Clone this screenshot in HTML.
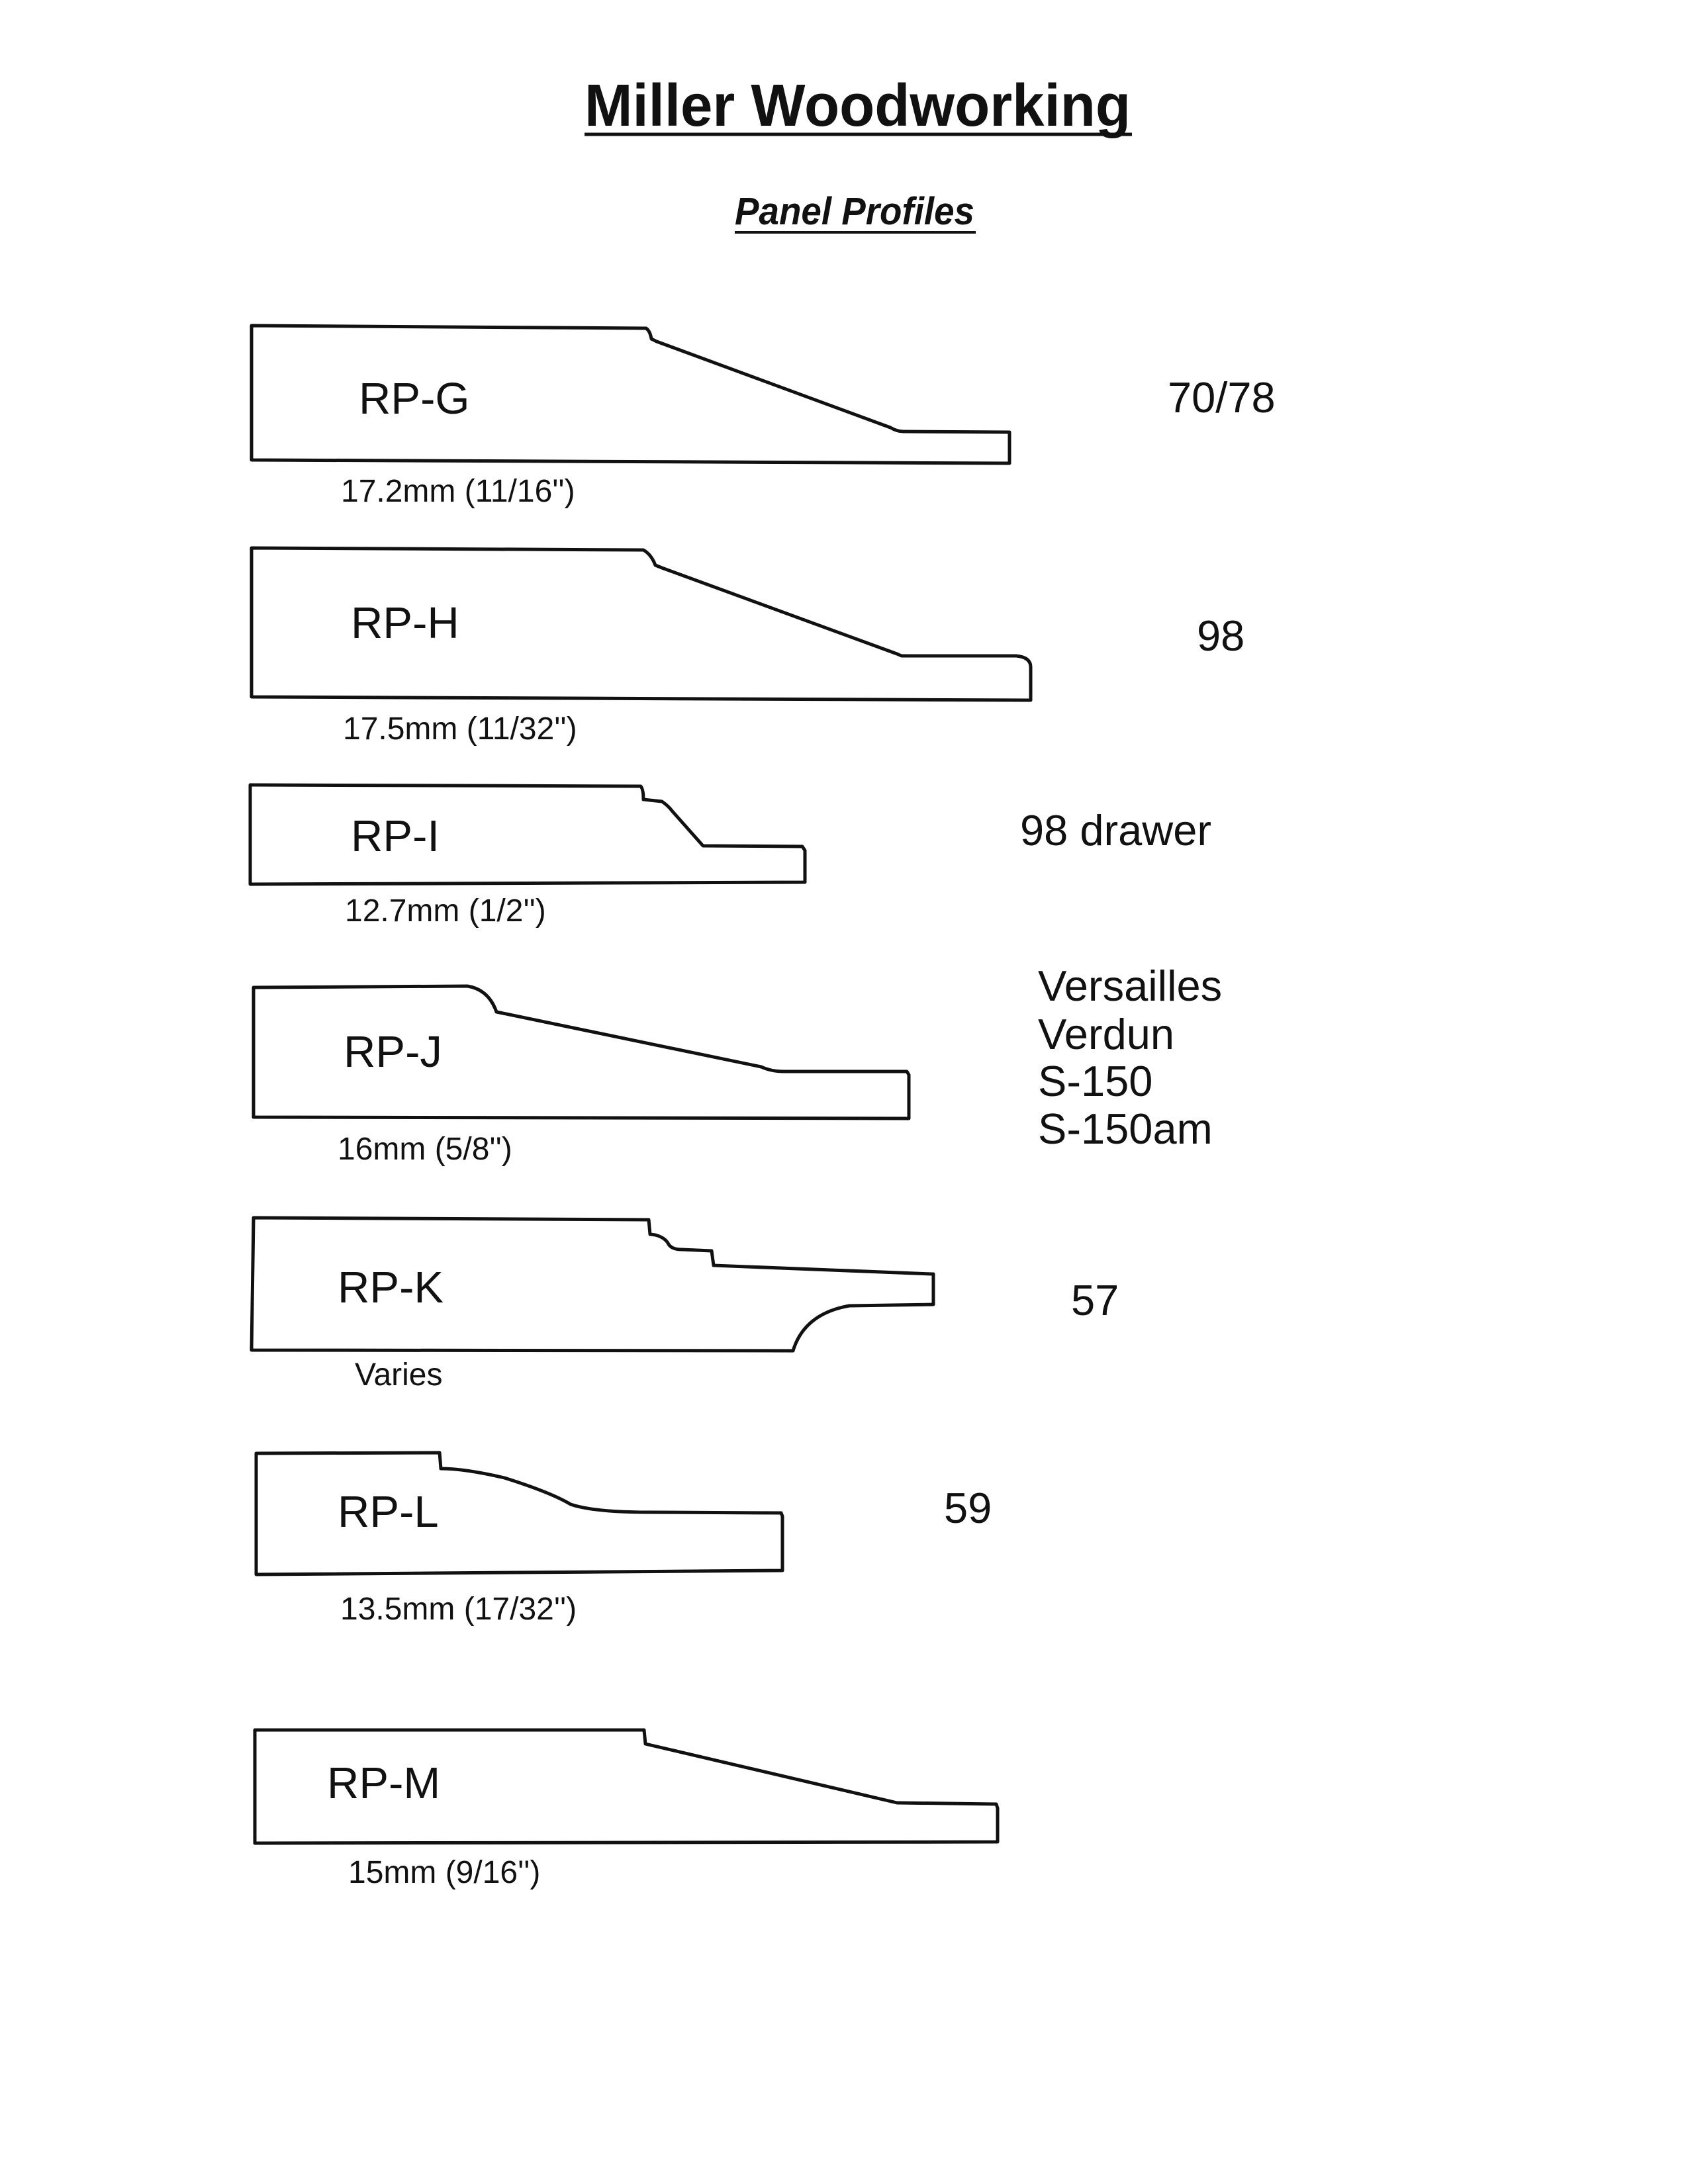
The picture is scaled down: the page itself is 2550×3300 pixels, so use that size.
<!DOCTYPE html>
<html><head><meta charset="utf-8"><style>
html,body{margin:0;padding:0;background:#fff;}
svg{display:block;}
text{font-family:"Liberation Sans",Arial,sans-serif;fill:#111;}
</style></head><body>
<svg width="2550" height="3300" viewBox="0 0 2550 3300" xmlns="http://www.w3.org/2000/svg">
<rect width="2550" height="3300" fill="#fff"/>
<!-- Title -->
<text x="883" y="190" font-size="90" font-weight="bold" textLength="825" lengthAdjust="spacingAndGlyphs">Miller Woodworking</text>
<line x1="883" y1="203" x2="1710" y2="203" stroke="#111" stroke-width="5"/>
<text x="1110" y="339" font-size="58" font-weight="bold" font-style="italic" textLength="362" lengthAdjust="spacingAndGlyphs">Panel Profiles</text>
<line x1="1110" y1="351" x2="1474" y2="351" stroke="#111" stroke-width="4"/>

<g fill="none" stroke="#111" stroke-width="5" stroke-linejoin="round">
<!-- RP-G -->
<path d="M380,492 L976,496 Q982,500 984,512 L992,516 L1345,646 Q1355,652 1365,652 L1525,653 L1525,700 L380,695 Z"/>
<!-- RP-H -->
<path d="M380,828 L972,831 Q984,838 990,854 L1000,858 L1355,988 L1362,991 L1535,991 Q1557,993 1557,1008 L1557,1058 L380,1053 Z"/>
<!-- RP-I -->
<g transform="translate(0,13)">
<path d="M378,1173 L968,1175 Q972,1180 972,1195 L1000,1198 Q1010,1205 1015,1212 L1062,1265 L1212,1266 L1216,1272 L1216,1320 L378,1323 Z"/>
</g>
<!-- RP-J -->
<path d="M383,1492 L706,1490 Q738,1495 750,1529 L1150,1612 Q1165,1619 1185,1619 L1370,1619 L1373,1624 L1373,1690 L383,1688 Z"/>
<!-- RP-K -->
<path d="M383,1840 L980,1843 L982,1865 L990,1866 Q1005,1870 1010,1880 Q1015,1888 1030,1888 L1075,1890 L1078,1912 L1408,1925 L1410,1925 L1410,1971 L1283,1973 Q1215,1985 1198,2041 L380,2040 Z"/>
<!-- RP-L -->
<g transform="translate(2,23)">
<path d="M385,2173 L662,2172 L664,2196 Q700,2196 760,2210 Q830,2232 860,2250 Q895,2262 980,2262 L1178,2263 L1180,2268 L1180,2350 L385,2356 Z"/>
</g>
<!-- RP-M -->
<g transform="translate(0,27)">
<path d="M385,2587 L973,2587 L975,2608 L1355,2697 L1505,2699 L1507,2705 L1507,2756 L385,2758 Z"/>
</g>
</g>

<!-- Profile labels -->
<g font-size="67">
<text x="542" y="625">RP-G</text>
<text x="530" y="964">RP-H</text>
<text x="530" y="1286">RP-I</text>
<text x="519" y="1612">RP-J</text>
<text x="510" y="1968">RP-K</text>
<text x="510" y="2307">RP-L</text>
<text x="494" y="2717">RP-M</text>
</g>
<!-- Captions -->
<g font-size="48">
<text x="515" y="758">17.2mm (11/16'')</text>
<text x="518" y="1117">17.5mm (11/32'')</text>
<text x="521" y="1392">12.7mm (1/2'')</text>
<text x="510" y="1752">16mm (5/8'')</text>
<text x="536" y="2093">Varies</text>
<text x="514" y="2447">13.5mm (17/32'')</text>
<text x="526" y="2845">15mm (9/16'')</text>
</g>
<!-- Right labels -->
<g font-size="65">
<text x="1764" y="623">70/78</text>
<text x="1808" y="983">98</text>
<text x="1541" y="1277">98 drawer</text>
<text x="1568" y="1512">Versailles</text>
<text x="1568" y="1585">Verdun</text>
<text x="1568" y="1656">S-150</text>
<text x="1568" y="1728">S-150am</text>
<text x="1618" y="1987">57</text>
<text x="1426" y="2301">59</text>
</g>
</svg>
</body></html>
